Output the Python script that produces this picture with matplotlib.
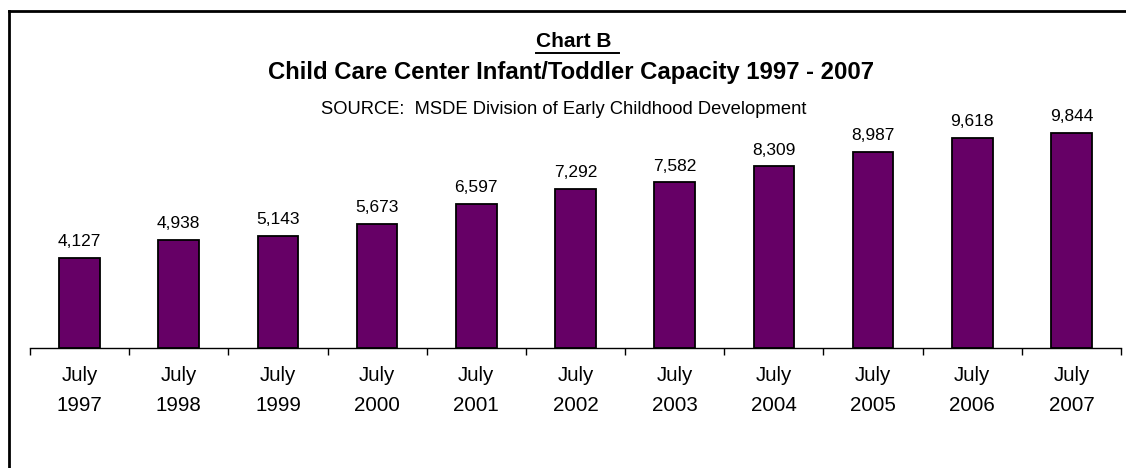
import numpy as np
import matplotlib.pyplot as plt
from matplotlib.lines import Line2D

# data
years = ['1997', '1998', '1999', '2000', '2001', '2002', '2003', '2004', '2005', '2006', '2007']
capacity = [4127, 4938, 5143, 5673, 6597, 7292, 7582, 8309, 8987, 9618, 9844]
tick_labels = ['July\n' + y for y in years]

# figure size in pixels
fig_w = 1126
fig_h = 468
plot_dpi = 100
bar_color = '#660066'

plt.rcParams['font.family'] = ['Liberation Sans', 'DejaVu Sans']

fig = plt.figure(figsize=(fig_w / plot_dpi, fig_h / plot_dpi), dpi=plot_dpi)
fig.patch.set_facecolor('white')

# axes placed in pixel units: x 30..1121, baseline at y=348 from top
left = 30 / fig_w
right = 1121 / fig_w
bottom = (fig_h - 348) / fig_h
top = (fig_h - 100) / fig_h
ax = fig.add_axes([left, bottom, right - left, top - bottom])

x = np.arange(len(years))
ax.bar(x, capacity, width=0.41, color=bar_color, edgecolor='black', linewidth=1.3, zorder=3)
for xi, v in zip(x, capacity):
    ax.annotate(f'{v:,}', (xi, v), xytext=(0, 8.5), textcoords='offset points',
                ha='center', va='baseline', fontsize=12.5)

ax.set_xlim(-0.5, len(years) - 0.5)
ax.set_ylim(0, 11350)
ax.set_yticks([])
for side in ['top', 'right', 'left']:
    ax.spines[side].set_visible(False)
ax.spines['bottom'].set_linewidth(1.0)

# category boundaries carry the tick marks
ax.set_xticks(np.arange(len(years) + 1) - 0.5)
ax.set_xticklabels([])
ax.tick_params(axis='x', length=5, width=1.0, direction='out')
ax.set_xticks(x, minor=True)
ax.set_xticklabels(tick_labels, minor=True, fontsize=14.8, linespacing=1.72)
ax.tick_params(axis='x', which='minor', length=0, pad=13)

# titles
t1 = fig.text(574 / fig_w, 1 - 47 / fig_h, 'Chart B', ha='center', va='baseline',
              fontsize=15, fontweight='bold')
fig.text(571 / fig_w, 1 - 79 / fig_h, 'Child Care Center Infant/Toddler Capacity 1997 - 2007',
         ha='center', va='baseline', fontsize=17.2, fontweight='bold')
fig.text(564 / fig_w, 1 - 114 / fig_h, 'SOURCE:  MSDE Division of Early Childhood Development',
         ha='center', va='baseline', fontsize=13.2)

# underline for "Chart B"
fig.canvas.draw()
bb = t1.get_window_extent()
uy = 1 - 52.5 / fig_h
fig.add_artist(Line2D([bb.x0 / fig_w, (bb.x1 + 7) / fig_w], [uy, uy], color='black', linewidth=1.4))

# outer frame (only top and left edges visible in the crop)
fy = 1 - 10.5 / fig_h
fx = 9 / fig_w
fig.add_artist(Line2D([fx, 1.0], [fy, fy], color='black', linewidth=2))
fig.add_artist(Line2D([fx, fx], [0.0, fy], color='black', linewidth=2))

fig.savefig('out.png', dpi=plot_dpi)
